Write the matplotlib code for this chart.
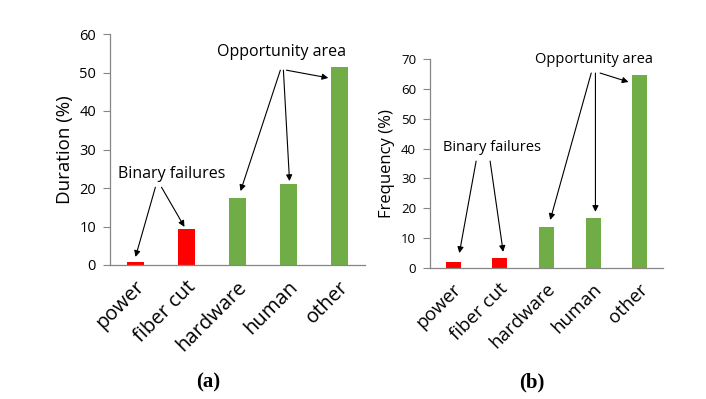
import matplotlib.pyplot as plt
from matplotlib.transforms import ScaledTranslation

# categories and values
causes = ["power", "fiber cut", "hardware", "human", "other"]
duration = [0.8, 9.3, 17.5, 21.1, 51.5]
frequency = [2.0, 3.2, 13.7, 16.6, 64.7]
colours = ["#ff0000", "#ff0000", "#70ad47", "#70ad47", "#70ad47"]

plt.rcParams['font.family'] = ['Open Sans', 'DejaVu Sans']

W, H = 706, 399
fig = plt.figure(figsize=(W / 100, H / 100), dpi=100)


def panel(rect, vals, ymax, ystep, ylabel, fs, xfs, yfs, binary, opp):
    l, b, w, h = rect
    ax = fig.add_axes([l / W, (H - b) / H, w / W, h / H])
    ax.bar(range(len(vals)), vals, width=0.32, color=colours)
    ax.set_xlim(-0.5, len(vals) - 0.5)
    ax.set_ylim(0, ymax)
    ax.set_yticks(range(0, ymax + 1, ystep))
    ax.set_xticks([])
    # rotated category labels, end of each word near its bar
    off = ScaledTranslation(-1 / 100, -12 / 100, fig.dpi_scale_trans)
    for i, name in enumerate(causes):
        ax.text(i, 0, name, rotation=45, ha='right', va='top',
                rotation_mode='anchor', fontsize=xfs,
                transform=ax.get_xaxis_transform() + off)
    ax.tick_params(axis='y', labelsize=fs - 1.5, length=5, width=0.8,
                   color='#868686', pad=5)
    for s in ['top', 'right']:
        ax.spines[s].set_visible(False)
    for s in ['left', 'bottom']:
        ax.spines[s].set_color('#868686')
        ax.spines[s].set_linewidth(0.9)
    ax.set_ylabel(ylabel, fontsize=yfs, labelpad=4)

    arrow = dict(arrowstyle='-|>', color='black', lw=0.8, mutation_scale=9,
                 shrinkA=0, shrinkB=0)
    for label, (tx, ty), pairs in [("Binary failures", binary[0], binary[1]),
                                   ("Opportunity area", opp[0], opp[1])]:
        ax.text(tx, ty, label, ha='center', va='center', fontsize=fs - 0.5)
        for (x0, y0), (x1, y1) in pairs:
            ax.annotate('', xy=(x1, y1), xytext=(x0, y0), arrowprops=arrow,
                        annotation_clip=False)
    return ax


panel((110, 265, 255, 231), duration, 60, 10, "Duration (%)", 12, 14.5, 13.5,
      ((0.7, 23.6), [((0.39, 20.2), (0.0, 2.1)), ((0.51, 20.2), (0.96, 9.9))]),
      ((2.86, 55.3), [((2.84, 50.6), (2.06, 19.2)), ((2.9, 50.6), (3.02, 21.8)),
                      ((2.96, 50.6), (3.78, 48.6))]))

panel((430, 268, 233, 209), frequency, 70, 10, "Frequency (%)", 11, 13.5, 12,
      ((0.84, 40.5), [((0.49, 35.8), (0.13, 5.0)), ((0.79, 35.8), (1.07, 5.4))]),
      ((3.03, 69.7), [((2.96, 65.3), (2.08, 16.1)), ((3.05, 65.3), (3.05, 18.8)),
                      ((3.15, 65.3), (3.76, 62.3))]))

fig.text(208 / W, 1 - 382 / H, "(a)", ha='center', va='center', fontsize=15,
         fontweight='bold', family='Liberation Serif')
fig.text(532 / W, 1 - 382 / H, "(b)", ha='center', va='center', fontsize=15,
         fontweight='bold', family='Liberation Serif')

fig.savefig('out.png', dpi=100)
